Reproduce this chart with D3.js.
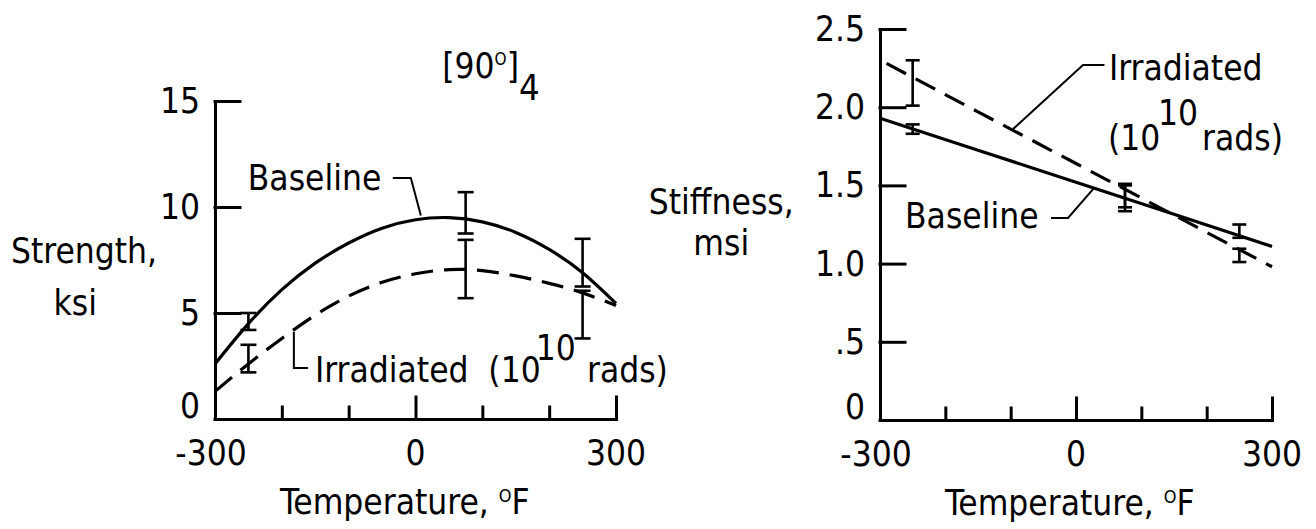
<!DOCTYPE html>
<html>
<head>
<meta charset="utf-8">
<script src="https://cdn.jsdelivr.net/npm/d3@7"></script>
<style>
  html, body { margin: 0; padding: 0; background: #fff; }
  svg { display: block; }
  text { font-family: "DejaVu Sans Condensed", "DejaVu Sans", sans-serif; font-size: 35px; fill: #000; }
</style>
</head>
<body>
<script>
// ---------- data ----------
const tempGrid = [-300, -250, -200, -150, -100, -50, 0, 50, 100, 150, 200, 250, 300];
const strengthBaseline   = [2.6, 4.5, 6.1, 7.35, 8.3, 9.0, 9.4, 9.5, 9.3, 8.8, 8.0, 6.9, 5.45];
const strengthIrradiated = [1.3, 2.6, 3.8, 4.9, 5.8, 6.45, 6.85, 7.05, 7.0, 6.75, 6.4, 5.95, 5.35];

const barTemps = [-250, 75, 250];
const strengthBaseLow   = [4.2, 8.75, 6.25];
const strengthBaseHigh  = [5.0, 10.7, 8.5];
const strengthIrrLow    = [2.2, 5.7, 3.8];
const strengthIrrHigh   = [3.5, 8.45, 6.05];

const stiffTemps = [-300, -150, 0, 150, 300];
const stiffBaseline   = [1.93, 1.725, 1.52, 1.315, 1.11];
const stiffIrrTemps = [-290, -150, 0, 150, 300];
const stiffIrradiated = [2.28, 1.97, 1.64, 1.31, 0.98];

const stiffBaseLow  = [1.83, 1.335, 1.165];
const stiffBaseHigh = [1.89, 1.51, 1.25];
const stiffIrrLow   = [2.01, 1.36, 1.01];
const stiffIrrHigh  = [2.30, 1.50, 1.095];

const xTickValues = [-300, -200, -100, 0, 100, 200, 300];
const xTickLabels = ["-300", "0", "300"];
const xLabelTemps = [-300, 0, 300];
const strengthTicks = [0, 5, 10, 15];
const strengthTickLabels = ["0", "5", "10", "15"];
const stiffTicks = [0, 0.5, 1.0, 1.5, 2.0, 2.5];
const stiffTickLabels = ["0", ".5", "1.0", "1.5", "2.0", "2.5"];

// ---------- setup ----------
const W = 1316, H = 529;
const svg = d3.select("body").append("svg").attr("width", W).attr("height", H);
svg.append("rect").attr("width", W).attr("height", H).attr("fill", "#fff");

const xL = d3.scaleLinear().domain([-300, 300]).range([215, 616]);
const yL = d3.scaleLinear().domain([0, 15]).range([419, 101]);
const xR = d3.scaleLinear().domain([-300, 300]).range([880, 1272]);
const yR = d3.scaleLinear().domain([0, 2.5]).range([420, 29]);

function drawAxes(x, y, yTicks, yTickLabels) {
  const g = svg.append("g");
  const xa = d3.axisTop(x).tickValues(xTickValues).tickSize(12).tickSizeOuter(0).tickFormat("");
  const gx = g.append("g").attr("transform", `translate(0,${y(0)})`).call(xa);
  gx.selectAll(".tick line").attr("y2", d => (d === 0 || d === 300) ? -22 : -12);
  const ya = d3.axisRight(y).tickValues(yTicks).tickSize(25).tickSizeOuter(0).tickFormat("");
  g.append("g").attr("transform", `translate(${x(-300)},0)`).call(ya);
  g.selectAll(".domain, .tick line").attr("stroke", "#000").attr("stroke-width", 3).attr("stroke-linecap", "square");
  g.selectAll(".domain").attr("fill", "none");

  yTicks.forEach((v, i) => {
    g.append("text")
      .attr("x", x(-300) - 15)
      .attr("y", v === 0 ? y(0) - 1 : y(v) + 12)
      .attr("text-anchor", "end")
      .text(yTickLabels[i]);
  });
  xLabelTemps.forEach((t, i) => {
    g.append("text")
      .attr("x", x(t) + (t === -300 ? -4 : 0))
      .attr("y", y(0) + 46)
      .attr("text-anchor", "middle")
      .text(xTickLabels[i]);
  });
  const tt = g.append("text")
    .attr("x", x(-300) + 65)
    .attr("y", y(0) + 95);
  tt.append("tspan").text("Temperature,  ");
  tt.append("tspan").attr("font-size", 18).attr("dy", -12).text("O");
  tt.append("tspan").attr("dy", 12).text("F");
}

drawAxes(xL, yL, strengthTicks, strengthTickLabels);
drawAxes(xR, yR, stiffTicks, stiffTickLabels);

// ---------- curves ----------
function curve(x, y, temps, vals, dashed, smooth) {
  const line = d3.line().x((d, i) => x(temps[i])).y(d => y(d)).curve(smooth ? d3.curveNatural : d3.curveLinear);
  svg.append("path").attr("d", line(vals)).attr("fill", "none").attr("stroke", "#000")
    .attr("stroke-width", 3.2)
    .attr("stroke-dasharray", dashed ? "22,11" : null);
}
curve(xL, yL, tempGrid, strengthBaseline, false, true);
curve(xL, yL, tempGrid, strengthIrradiated, true, true);
curve(xR, yR, stiffTemps, stiffBaseline, false, false);
curve(xR, yR, stiffIrrTemps, stiffIrradiated, true, false);

// ---------- error bars ----------
function errBars(x, y, temps, lows, highs, cap) {
  const g = svg.append("g").attr("stroke", "#000").attr("stroke-width", 2.6);
  temps.forEach((t, i) => {
    const cx = x(t);
    g.append("line").attr("x1", cx).attr("x2", cx).attr("y1", y(lows[i])).attr("y2", y(highs[i]));
    g.append("line").attr("x1", cx - cap).attr("x2", cx + cap).attr("y1", y(lows[i])).attr("y2", y(lows[i]));
    g.append("line").attr("x1", cx - cap).attr("x2", cx + cap).attr("y1", y(highs[i])).attr("y2", y(highs[i]));
  });
}
errBars(xL, yL, barTemps, strengthBaseLow, strengthBaseHigh, 8);
errBars(xL, yL, barTemps, strengthIrrLow, strengthIrrHigh, 8);
errBars(xR, yR, barTemps, stiffBaseLow, stiffBaseHigh, 7);
errBars(xR, yR, barTemps, stiffIrrLow, stiffIrrHigh, 7);

// ---------- annotations ----------
function leader(x, y, pts) {
  svg.append("path")
    .attr("d", d3.line().x(p => x(p[0])).y(p => y(p[1]))(pts))
    .attr("fill", "none").attr("stroke", "#000").attr("stroke-width", 2);
}
function label(x, y, t, v, str, anchor) {
  return svg.append("text").attr("x", x(t)).attr("y", y(v)).attr("text-anchor", anchor || "start").text(str);
}

// left panel
const title = svg.append("text").attr("x", xL(40)).attr("y", yL(16.08)).attr("font-size", 32);
title.append("tspan").text("[90");
title.append("tspan").attr("font-size", 17).attr("dy", -13).text("O");
title.append("tspan").attr("dy", 13).text("]");
title.append("tspan").attr("font-size", 36).attr("dy", 22).text("4");

label(xL, yL, -496, 7.36, "Strength,", "middle");
label(xL, yL, -509, 4.9, "ksi", "middle");

label(xL, yL, -251, 10.8, "Baseline");
leader(xL, yL, [[-34, 11.37], [-7, 11.37], [8, 9.6]]);

label(xL, yL, -150.4, 1.76, "Irradiated");
label(xL, yL, 109, 1.76, "(10");
label(xL, yL, 180, 2.78, "10");
label(xL, yL, 256.6, 1.76, "rads)");
leader(xL, yL, [[-161, 2.41], [-182, 2.41], [-182, 4.1]]);

// right panel
label(xR, yR, -543, 1.315, "Stiffness,", "middle").attr("font-size", 34);
label(xR, yR, -543, 1.055, "msi", "middle").attr("font-size", 34);

label(xR, yR, 50.5, 2.174, "Irradiated");
label(xR, yR, 49, 1.726, "(10");
label(xR, yR, 125.5, 1.886, "10");
label(xR, yR, 193, 1.726, "rads)");
leader(xR, yR, [[43.6, 2.27], [10.7, 2.27], [-96.4, 1.86]]);

label(xR, yR, -261.7, 1.228, "Baseline");
leader(xR, yR, [[-38.3, 1.292], [-12.2, 1.292], [27.5, 1.482]]);
</script>
</body>
</html>
